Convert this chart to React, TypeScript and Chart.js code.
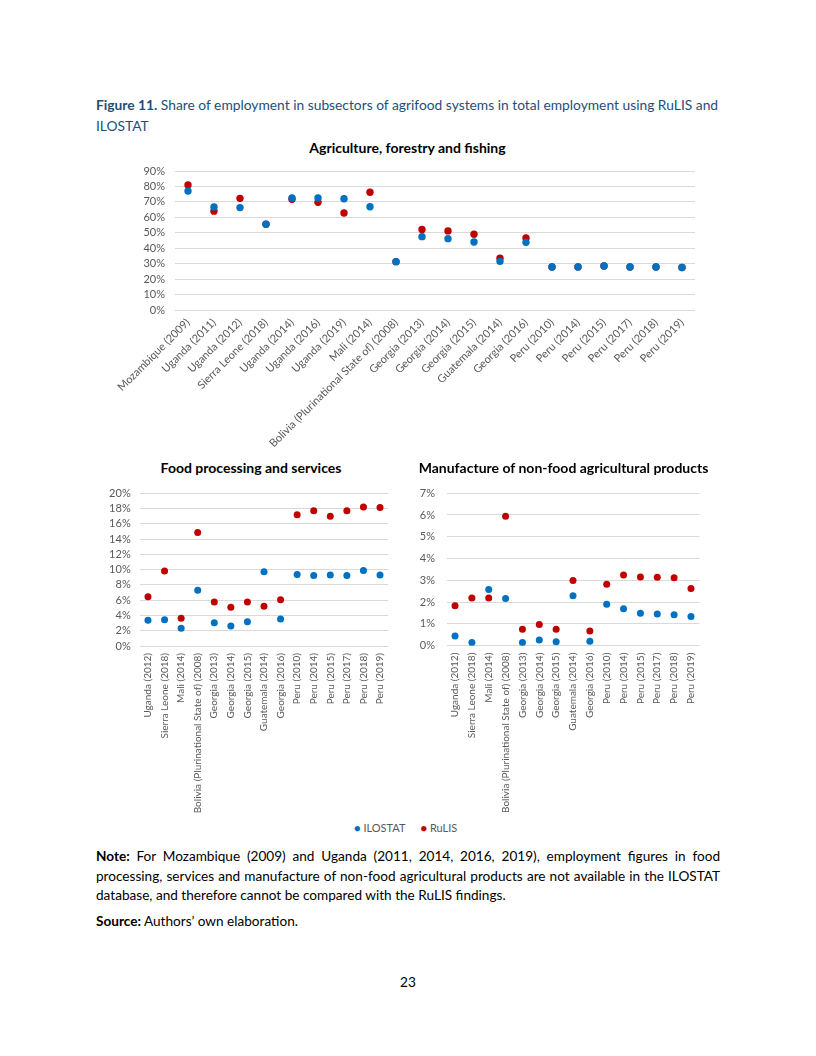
import React, { useEffect, useRef } from 'react';
import { Chart, registerables } from 'chart.js';

Chart.register(...registerables);

// ---------- DATA ----------
const agriCategories = [
  'Mozambique (2009)', 'Uganda (2011)', 'Uganda (2012)', 'Sierra Leone (2018)', 'Uganda (2014)',
  'Uganda (2016)', 'Uganda (2019)', 'Mali (2014)', 'Bolivia (Plurinational State of) (2008)',
  'Georgia (2013)', 'Georgia (2014)', 'Georgia (2015)', 'Guatemala (2014)', 'Georgia (2016)',
  'Peru (2010)', 'Peru (2014)', 'Peru (2015)', 'Peru (2017)', 'Peru (2018)', 'Peru (2019)',
];
const agriIlostat = [77, 66.7, 66.3, 55.5, 72.5, 72.5, 72, 66.9, 31.3, 47.5, 46.2, 44, 31.5, 43.8, 27.8, 27.9, 28.5, 27.8, 27.8, 27.5];
const agriRulis = [81, 64, 72.3, 55.5, 71.7, 69.7, 62.8, 76.2, 31.3, 52.2, 51.2, 49, 33.5, 46.6, 27.8, 27.9, 28.5, 27.8, 27.8, 27.5];

const subCategories = [
  'Uganda (2012)', 'Sierra Leone (2018)', 'Mali (2014)', 'Bolivia (Plurinational State of) (2008)',
  'Georgia (2013)', 'Georgia (2014)', 'Georgia (2015)', 'Guatemala (2014)', 'Georgia (2016)',
  'Peru (2010)', 'Peru (2014)', 'Peru (2015)', 'Peru (2017)', 'Peru (2018)', 'Peru (2019)',
];
const foodIlostat = [3.36, 3.45, 2.31, 7.29, 3.06, 2.62, 3.19, 9.73, 3.54, 9.38, 9.25, 9.3, 9.25, 9.9, 9.3];
const foodRulis = [6.46, 9.82, 3.62, 14.85, 5.76, 5.07, 5.76, 5.2, 6.07, 17.2, 17.7, 16.98, 17.7, 18.2, 18.15];
const nonfoodIlostat = [0.44, 0.15, 2.58, 2.17, 0.15, 0.26, 0.18, 2.29, 0.21, 1.9, 1.7, 1.49, 1.46, 1.42, 1.34];
const nonfoodRulis = [1.83, 2.19, 2.19, 5.94, 0.75, 0.97, 0.75, 2.99, 0.68, 2.82, 3.24, 3.15, 3.14, 3.12, 2.62];

const seriesNames = ['ILOSTAT', 'RuLIS'];
const chartTitles = [
  'Agriculture, forestry and fishing',
  'Food processing and services',
  'Manufacture of non-food agricultural products',
];
const agriTicks = { max: 90, step: 10 };
const foodTicks = { max: 20, step: 2 };
const nonfoodTicks = { max: 7, step: 1 };

// ---------- STYLE ----------
const BLUE = '#0070C0';
const RED = '#C00000';
const TICK = '#595959';
const GRID = '#D9D9D9';
const FONT = 'Lato, "Open Sans", sans-serif';
const CAPTION = '#1F4E79';

type Cfg = {
  left: number; top: number; width: number; height: number;
  labels: string[]; ilo: number[]; rul: number[];
  max: number; step: number;
  padTop: number; padR: number; yWidth: number; yPad: number; xHeight: number;
  rotation: number; xFont: number; yFont: number; radius: number; xPad: number;
};

function DotChart(c: Cfg) {
  const ref = useRef<HTMLCanvasElement | null>(null);
  useEffect(() => {
    if (!ref.current) return;
    const chart = new Chart(ref.current, {
      type: 'line',
      data: {
        labels: c.labels,
        datasets: [
          {
            label: seriesNames[0], data: c.ilo, showLine: false,
            pointRadius: c.radius, pointBackgroundColor: BLUE, pointBorderColor: BLUE,
            pointBorderWidth: 0, backgroundColor: BLUE, borderColor: BLUE,
          },
          {
            label: seriesNames[1], data: c.rul, showLine: false,
            pointRadius: c.radius, pointBackgroundColor: RED, pointBorderColor: RED,
            pointBorderWidth: 0, backgroundColor: RED, borderColor: RED,
          },
        ],
      },
      options: {
        responsive: false,
        animation: false,
        devicePixelRatio: 1,
        layout: { padding: { left: 0, right: c.padR, top: c.padTop, bottom: 0 } },
        plugins: {
          legend: { display: false },
          tooltip: { enabled: false },
          title: { display: false },
        },
        scales: {
          x: {
            type: 'category', offset: true,
            grid: { display: false, drawTicks: false },
            border: { display: false },
            ticks: {
              autoSkip: false, minRotation: c.rotation, maxRotation: c.rotation,
              color: TICK, padding: c.xPad, font: { family: FONT, size: c.xFont },
            },
            afterFit: (s: any) => { s.height = c.xHeight; },
          },
          y: {
            min: 0, max: c.max,
            grid: { color: GRID, drawTicks: false, lineWidth: 1 },
            border: { display: false },
            ticks: {
              stepSize: c.step, autoSkip: false, color: TICK, padding: c.yPad,
              font: { family: FONT, size: c.yFont },
              callback: (v: any) => `${v}%`,
            },
            afterFit: (s: any) => { s.width = c.yWidth; },
          },
        },
      } as any,
    });
    return () => chart.destroy();
  }, []);
  return (
    <canvas
      ref={ref}
      width={c.width}
      height={c.height}
      style={{ position: 'absolute', left: c.left, top: c.top, width: c.width, height: c.height }}
    />
  );
}

export default function App() {
  const text: React.CSSProperties = { position: 'absolute', fontFamily: FONT, fontSize: 13.6, color: '#000', whiteSpace: 'nowrap' };
  const just: React.CSSProperties = { textAlign: 'justify', textAlignLast: 'justify' as any, width: 624 };
  const title = (cx: number, top: number, t: string) => (
    <div style={{ position: 'absolute', left: cx - 200, width: 400, top, textAlign: 'center', fontFamily: FONT, fontWeight: 700, fontSize: 14, lineHeight: '18px', color: '#000', whiteSpace: 'nowrap' }}>{t}</div>
  );
  return (
    <div style={{ position: 'absolute', left: 0, top: 0, width: 816, height: 1056, background: '#fff', overflow: 'hidden' }}>
      <div style={{ ...text, left: 96, top: 95, fontSize: 13.8, lineHeight: '20.5px', color: CAPTION }}>
        <div><b>Figure 11.</b> Share of employment in subsectors of agrifood systems in total employment using RuLIS and</div>
        <div>ILOSTAT</div>
      </div>

      {title(407.5, 139, chartTitles[0])}
      <DotChart
        left={90} top={150} width={630} height={302}
        labels={agriCategories}
        ilo={agriIlostat} rul={agriRulis} max={agriTicks.max} step={agriTicks.step}
        padTop={21} padR={25} yWidth={85} yPad={10} xHeight={142}
        rotation={45} xFont={11} yFont={11} radius={3.7} xPad={6}
      />

      {title(251, 459, chartTitles[1])}
      <DotChart
        left={100} top={475} width={300} height={345}
        labels={subCategories}
        ilo={foodIlostat} rul={foodRulis} max={foodTicks.max} step={foodTicks.step}
        padTop={18.3} padR={11.7} yWidth={39.7} yPad={9} xHeight={174}
        rotation={90} xFont={10} yFont={11} radius={3.5} xPad={7}
      />

      {title(563.5, 459, chartTitles[2])}
      <DotChart
        left={412} top={475} width={304} height={345}
        labels={subCategories}
        ilo={nonfoodIlostat} rul={nonfoodRulis} max={nonfoodTicks.max} step={nonfoodTicks.step}
        padTop={16} padR={16.6} yWidth={34.6} yPad={11.6} xHeight={174.3}
        rotation={90} xFont={10} yFont={11} radius={3.5} xPad={7}
      />

      <div style={{ ...text, left: 354, top: 820, fontSize: 11, lineHeight: '16px', color: TICK }}>
        <span style={{ color: BLUE }}>●</span> {seriesNames[0]}
        <span style={{ display: 'inline-block', width: 15 }} />
        <span style={{ color: RED }}>●</span> {seriesNames[1]}
      </div>

      <div style={{ ...text, left: 96, top: 847, lineHeight: '19.7px' }}>
        <div style={just}><b>Note:</b> For Mozambique (2009) and Uganda (2011, 2014, 2016, 2019), employment figures in food</div>
        <div style={just}>processing, services and manufacture of non-food agricultural products are not available in the ILOSTAT</div>
        <div>database, and therefore cannot be compared with the RuLIS findings.</div>
      </div>
      <div style={{ ...text, left: 96, top: 911, lineHeight: '20px' }}>
        <b>Source:</b> Authors’ own elaboration.
      </div>
      <div style={{ ...text, left: 0, width: 816, textAlign: 'center', top: 973, lineHeight: '18px' }}>23</div>
    </div>
  );
}
